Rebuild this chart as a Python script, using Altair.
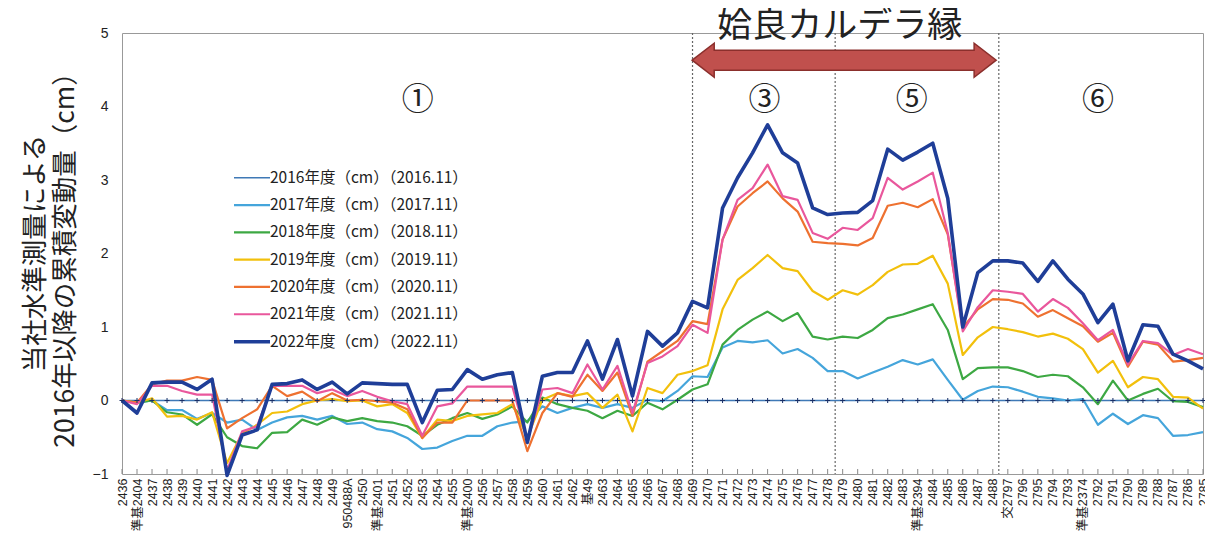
import json
import altair as alt
import pandas as pd

stations = ["2436","準基2404","2437","2438","2439","2440","2441","2442","2443","2444",
            "2445","2446","2447","2448","2449","950488A","2450","準基2401","2451","2452",
            "2453","2454","2455","準基2400","2456","2457","2458","2459","2460","2461",
            "2462","基49","2463","2464","2465","2466","2467","2468","2469","2470",
            "2471","2472","2473","2474","2475","2476","2477","2478","2479","2480",
            "2481","2482","2483","準基2394","2484","2485","2486","2487","2488","交2797",
            "2796","2795","2794","2793","準基2374","2792","2791","2790","2789","2788",
            "2787","2786","2785"]

series = ["2016年度（cm）（2016.11）", "2017年度（cm）（2017.11）", "2018年度（cm）（2018.11）",
          "2019年度（cm）（2019.11）", "2020年度（cm）（2020.11）", "2021年度（cm）（2021.11）",
          "2022年度（cm）（2022.11）"]

v2016 = [0, 0, 0, 0, 0, 0, 0, 0, 0, 0,
         0, 0, 0, 0, 0, 0, 0, 0, 0, 0,
         0, 0, 0, 0, 0, 0, 0, 0, 0, 0,
         0, 0, 0, 0, 0, 0, 0, 0, 0, 0,
         0, 0, 0, 0, 0, 0, 0, 0, 0, 0,
         0, 0, 0, 0, 0, 0, 0, 0, 0, 0,
         0, 0, 0, 0, 0, 0, 0, 0, 0, 0,
         0, 0, 0]

v2017 = [0, -0.03, 0.00, -0.13, -0.13, -0.25, -0.17, -0.30, -0.26, -0.40,
         -0.30, -0.23, -0.21, -0.26, -0.21, -0.32, -0.30, -0.39, -0.42, -0.51,
         -0.66, -0.64, -0.55, -0.48, -0.48, -0.35, -0.30, -0.28, -0.08, -0.17,
         -0.10, -0.05, -0.10, -0.05, -0.10, 0.01, -0.01, 0.13, 0.33, 0.32,
         0.72, 0.81, 0.79, 0.82, 0.64, 0.70, 0.58, 0.40, 0.40, 0.30,
         0.38, 0.46, 0.55, 0.49, 0.56, 0.28, 0.01, 0.13, 0.19, 0.18,
         0.12, 0.05, 0.03, 0.00, 0.02, -0.33, -0.18, -0.32, -0.20, -0.24,
         -0.48, -0.47, -0.43]

v2018 = [0, -0.03, 0.00, -0.16, -0.19, -0.33, -0.19, -0.50, -0.62, -0.65,
         -0.44, -0.43, -0.26, -0.33, -0.23, -0.28, -0.24, -0.28, -0.30, -0.35,
         -0.48, -0.33, -0.24, -0.17, -0.25, -0.19, -0.08, -0.30, 0.04, -0.05,
         -0.10, -0.14, -0.24, -0.14, -0.21, -0.03, -0.12, 0.01, 0.15, 0.22,
         0.76, 0.96, 1.10, 1.21, 1.08, 1.19, 0.87, 0.83, 0.87, 0.85,
         0.96, 1.12, 1.17, 1.24, 1.31, 0.96, 0.29, 0.44, 0.45, 0.45,
         0.40, 0.32, 0.35, 0.33, 0.18, -0.05, 0.27, 0.00, 0.09, 0.16,
         -0.01, -0.02, -0.09]

v2019 = [0, -0.03, 0.03, -0.22, -0.21, -0.26, -0.16, -0.85, -0.45, -0.33,
         -0.17, -0.15, -0.05, 0.00, 0.02, -0.01, 0.00, -0.08, -0.05, -0.17,
         -0.51, -0.26, -0.28, -0.21, -0.19, -0.17, -0.05, -0.50, 0.01, 0.10,
         0.06, 0.10, -0.10, 0.08, -0.42, 0.17, 0.10, 0.35, 0.40, 0.48,
         1.24, 1.64, 1.80, 1.98, 1.80, 1.76, 1.49, 1.37, 1.50, 1.44,
         1.57, 1.75, 1.85, 1.86, 1.97, 1.59, 0.62, 0.86, 1.00, 0.97,
         0.93, 0.87, 0.91, 0.84, 0.70, 0.38, 0.54, 0.18, 0.32, 0.29,
         0.05, 0.04, -0.11]

v2020 = [0, -0.03, 0.22, 0.27, 0.27, 0.32, 0.28, -0.38, -0.24, -0.12,
         0.20, 0.06, 0.12, -0.01, 0.10, 0.00, 0.01, -0.01, -0.03, -0.12,
         -0.51, -0.30, -0.30, 0.00, 0.00, 0.00, 0.00, -0.69, -0.17, 0.10,
         0.05, 0.35, 0.13, 0.38, -0.21, 0.53, 0.67, 0.81, 1.08, 1.04,
         2.19, 2.64, 2.82, 2.98, 2.75, 2.57, 2.16, 2.14, 2.13, 2.11,
         2.21, 2.65, 2.69, 2.63, 2.74, 2.26, 0.99, 1.24, 1.38, 1.37,
         1.32, 1.14, 1.23, 1.12, 1.01, 0.80, 0.92, 0.46, 0.80, 0.76,
         0.53, 0.55, 0.58]

v2021 = [0, -0.05, 0.20, 0.20, 0.13, 0.08, 0.08, -0.95, -0.42, -0.35,
         0.20, 0.20, 0.20, 0.10, 0.15, 0.06, 0.13, 0.05, -0.01, -0.05,
         -0.48, -0.08, -0.04, 0.19, 0.19, 0.19, 0.19, -0.55, 0.15, 0.17,
         0.10, 0.49, 0.15, 0.47, -0.17, 0.51, 0.60, 0.74, 1.03, 0.92,
         2.19, 2.73, 2.89, 3.21, 2.78, 2.73, 2.28, 2.20, 2.35, 2.32,
         2.48, 3.03, 2.87, 2.98, 3.10, 2.28, 0.94, 1.27, 1.50, 1.48,
         1.45, 1.21, 1.38, 1.26, 1.05, 0.82, 0.96, 0.49, 0.81, 0.78,
         0.62, 0.70, 0.63]

v2022 = [0, -0.17, 0.24, 0.25, 0.25, 0.15, 0.29, -1.02, -0.47, -0.40,
         0.22, 0.23, 0.28, 0.15, 0.25, 0.09, 0.24, 0.23, 0.22, 0.22,
         -0.30, 0.14, 0.15, 0.42, 0.29, 0.35, 0.38, -0.57, 0.33, 0.38,
         0.38, 0.81, 0.29, 0.83, 0.06, 0.94, 0.74, 0.92, 1.35, 1.26,
         2.62, 3.03, 3.37, 3.75, 3.37, 3.23, 2.62, 2.53, 2.55, 2.56,
         2.72, 3.42, 3.27, 3.38, 3.50, 2.75, 1.00, 1.74, 1.90, 1.90,
         1.87, 1.62, 1.90, 1.65, 1.45, 1.06, 1.31, 0.54, 1.03, 1.01,
         0.63, 0.54, 0.43]

region_labels = ["①", "③", "⑤", "⑥"]
caldera_title = "姶良カルデラ縁"
y_title = ["当社水準測量による", "2016年以降の累積変動量（cm）"]

all_values = [v2016, v2017, v2018, v2019, v2020, v2021, v2022]
colors = ["#3f79b6", "#45a5db", "#3da843", "#f2c00c", "#ee7130", "#e9579c", "#1f3e98"]
widths = [1.4, 2.2, 2.2, 2.2, 2.2, 2.2, 3.6]

rows = []
for name, vals in zip(series, all_values):
    for i, (st, v) in enumerate(zip(stations, vals)):
        rows.append({"idx": i, "station": st, "series": name, "value": v})
df = pd.DataFrame(rows)

W, H = 1081, 441
JP = "Noto Sans CJK JP"

xscale = alt.Scale(domain=[0, len(stations) - 1], nice=False, zero=False)
yscale = alt.Scale(domain=[-1, 5], nice=False)

label_arr = json.dumps(stations, ensure_ascii=False)
x_axis = alt.Axis(values=list(range(len(stations))), labelExpr=f"{label_arr}[datum.value]",
                  labelAngle=270, labelFontSize=12.5, labelFont="Liberation Sans, Noto Sans CJK JP",
                  labelColor="#222", labelOverlap=False, labelBound=False, labelFlush=False,
                  ticks=False, domain=False, grid=False, title=None, labelPadding=4)
y_axis = alt.Axis(values=[-1, 0, 1, 2, 3, 4, 5], labelFontSize=14, labelFont="Liberation Sans",
                  labelColor="#222", ticks=False, domain=False, grid=False, labelPadding=14,
                  title=y_title, titleFont=JP, titleFontSize=26.5, titleFontWeight="normal",
                  titleColor="#222", titleAngle=270, titleX=-100, titleY=220, titleAlign="center",
                  titleBaseline="top", titleLineHeight=30)

legend = alt.Legend(title=None, orient="none", legendX=122, legendY=137,
                    symbolType="M-3,0L3,0", symbolSize=144, labelFont=JP, labelFontSize=15.5,
                    labelColor="#222", rowPadding=10.3, labelOffset=10, labelLimit=400)

color_enc = alt.Color("series:N", scale=alt.Scale(domain=series, range=colors), legend=legend)
width_enc = alt.StrokeWidth("series:N", scale=alt.Scale(type="ordinal", domain=series, range=widths), legend=legend)

# dotted dividers
div_df = pd.DataFrame({"pos": [38.0, 47.5, 58.4]})
dividers = alt.Chart(div_df).mark_rule(color="#666", strokeDash=[2, 2], strokeWidth=1.2).encode(
    x=alt.X("pos:Q", scale=xscale, axis=x_axis), y=alt.value(0), y2=alt.value(H))

# inside ticks
tick_df = pd.DataFrame({"idx": list(range(len(stations)))})
ticks = alt.Chart(tick_df).mark_rule(color="#888", strokeWidth=1).encode(
    x=alt.X("idx:Q", scale=xscale, axis=x_axis), y=alt.value(H), y2=alt.value(H - 5))

layers = [dividers, ticks]
for name in series:
    sub = df[df.series == name]
    layers.append(alt.Chart(sub).mark_line(strokeJoin="round").encode(
        x=alt.X("idx:Q", scale=xscale, axis=x_axis),
        y=alt.Y("value:Q", scale=yscale, axis=y_axis),
        color=color_enc, strokeWidth=width_enc))

markers = alt.Chart(df[df.series == series[0]]).mark_point(
    shape="M0,-1L0,1M-1,0L1,0", size=25, filled=False, strokeWidth=1, color="#1a2f66", opacity=1
).encode(x=alt.X("idx:Q", scale=xscale, axis=x_axis), y=alt.Y("value:Q", scale=yscale, axis=y_axis))
layers.append(markers)

arrow_path = ("M-1,0L-0.855,-0.112L-0.855,-0.066L0.855,-0.066L0.855,-0.112L1,0"
              "L0.855,0.112L0.855,0.066L-0.855,0.066L-0.855,0.112Z")
arrow = alt.Chart(pd.DataFrame({"x": [48.1], "y": [4.63]})).mark_point(
    shape=arrow_path, size=92416, filled=True, fill="#c0504d", stroke="#8b2f2c",
    strokeWidth=1.5, opacity=1
).encode(x=alt.X("x:Q", scale=xscale, axis=x_axis), y=alt.Y("y:Q", scale=yscale, axis=y_axis))
layers.append(arrow)

reg_df = pd.DataFrame({"x": [19.7, 42.8, 52.6, 65.0], "y": [4.09, 4.09, 4.09, 4.09], "t": region_labels})
regions = alt.Chart(reg_df).mark_text(font=JP, fontSize=32, color="#222").encode(
    x=alt.X("x:Q", scale=xscale, axis=x_axis), y=alt.Y("y:Q", scale=yscale, axis=y_axis), text="t:N")
layers.append(regions)

ttl = alt.Chart(pd.DataFrame({"x": [47.8], "y": [5.1], "t": [caldera_title]})).mark_text(
    font=JP, fontSize=35, color="#222").encode(
    x=alt.X("x:Q", scale=xscale, axis=x_axis), y=alt.Y("y:Q", scale=yscale, axis=y_axis), text="t:N")
layers.append(ttl)

chart = alt.layer(*layers).properties(
    width=W, height=H,
    autosize=alt.AutoSizeParams(type="none"),
    padding={"left": 114, "top": 25, "right": 2, "bottom": 58},
    background="white",
).configure_view(stroke="#999", strokeWidth=1)

chart.save("out.html", embed_options={"renderer": "svg", "actions": False})
